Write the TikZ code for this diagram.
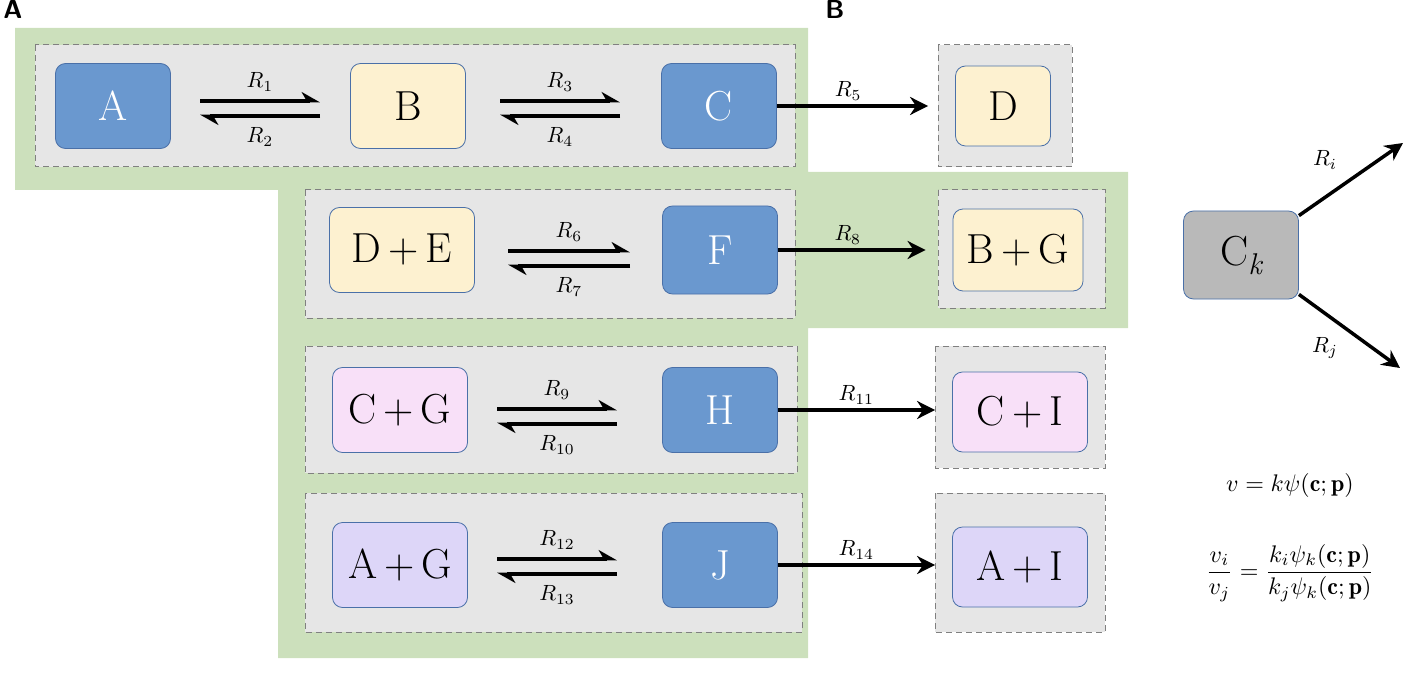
\documentclass[tikz,border=0pt]{standalone}
\usepackage{fontspec}
\usetikzlibrary{arrows.meta}
\definecolor{bfill}{HTML}{6A98CF}
\definecolor{bdraw}{HTML}{4A70A8}
\definecolor{yfill}{HTML}{FDF1D0}
\definecolor{pfill}{HTML}{F8E0F8}
\definecolor{lfill}{HTML}{DDD6F8}
\definecolor{gfill}{HTML}{E6E6E6}
\definecolor{grn}{HTML}{CCE0BC}
\newcommand{\mylab}[1]{\scalebox{2.2}{$#1$}}
\tikzset{
 sp/.style={draw=bdraw,line width=0.8pt,rounded corners=10pt,minimum width=115pt,minimum height=85pt,font=\fontsize{42}{46}\selectfont,inner sep=2pt},
 blu/.style={sp,fill=bfill,text=white},
 yel/.style={sp,fill=yfill},
 pnk/.style={sp,fill=pfill},
 lav/.style={sp,fill=lfill},
 grp/.style={draw=gray,fill=gfill,line width=1pt,dash pattern=on 6pt off 4pt},
 fw/.style={line width=4pt,-{Stealth[harpoon,length=16pt,width=18pt]}},
 rl/.style={inner sep=2pt},
 ar/.style={line width=3.5pt,-{Stealth[length=18pt,width=18pt]}},
 pl/.style={font=\sffamily\bfseries\fontsize{26}{30}\selectfont,anchor=center}
}
\begin{document}
\begin{tikzpicture}[x=1pt,y=-1pt]
\useasboundingbox (0,0) rectangle (1420,676);
\fill[grn] (15,28) -- (808,28) -- (808,172) -- (1128,172) -- (1128,328) -- (808,328) -- (808,658) -- (278,658) -- (278,190) -- (15,190) -- cycle;
\draw[grp] (35,45) rectangle (795,167);
\draw[grp] (305,190) rectangle (795,318);
\draw[grp] (305,346) rectangle (797,473);
\draw[grp] (305,493) rectangle (802,632);
\draw[grp] (938,45) rectangle (1072,167);
\draw[grp] (938,190) rectangle (1105,308);
\draw[grp] (935,346) rectangle (1105,468);
\draw[grp] (935,493) rectangle (1105,632);
\node[pl] (pa) at (13,9) {A};
\node[pl] (pb) at (835,9) {B};
\node[blu] (A) at (113,106) {A};
\node[yel] (B) at (408,106) {B};
\node[blu] (C) at (719,106) {C};
\node[yel,minimum width=95pt,minimum height=80pt] (D) at (1003,106) {D};
\node[yel,minimum width=145pt] (DE) at (402,250) {D\,+\,E};
\node[blu,minimum height=88pt] (F) at (720,250) {F};
\node[yel,minimum width=130pt,minimum height=82pt] (BG) at (1018,250) {B\,+\,G};
\node[pnk,minimum width=135pt] (CG) at (400,410) {C\,+\,G};
\node[blu] (H) at (720,410) {H};
\node[pnk,minimum width=135pt,minimum height=80pt] (CI) at (1020,412) {C\,+\,I};
\node[lav,minimum width=135pt] (AG) at (400,565) {A\,+\,G};
\node[blu] (J) at (720,565) {J};
\node[lav,minimum width=135pt,minimum height=80pt] (AI) at (1020,567) {A\,+\,I};
\newcommand{\eqarr}[6]{%
 \coordinate (#1a) at (#2,#4-7); \coordinate (#1b) at (#3,#4-7);
 \coordinate (#1c) at (#3,#4+8); \coordinate (#1d) at (#2,#4+8);
 \draw[fw] (#1a) -- (#1b);
 \draw[fw] (#1c) -- (#1d);
 \node[rl] at ({(#2+#3)/2},#4-26) {\mylab{R_{#5}}};
 \node[rl] at ({(#2+#3)/2},#4+29) {\mylab{R_{#6}}};}
\eqarr{e1}{200}{320}{108}{1}{2}
\eqarr{e2}{500}{620}{108}{3}{4}
\eqarr{e3}{508}{630}{258}{6}{7}
\eqarr{e4}{497}{617}{416}{9}{10}
\eqarr{e5}{497}{617}{566}{12}{13}
\draw[ar,shorten >=27pt] (C.east) -- (C.east -| D.west) node[rl,pos=0.4,above=2pt] {\mylab{R_5}};
\draw[ar,shorten >=27pt] (F.east) -- (F.east -| BG.west) node[rl,pos=0.4,above=2pt] {\mylab{R_8}};
\draw[ar,shorten >=17pt] (H.east) -- (H.east -| CI.west) node[rl,pos=0.45,above=2pt] {\mylab{R_{11}}};
\draw[ar,shorten >=17pt] (J.east) -- (J.east -| AI.west) node[rl,pos=0.45,above=2pt] {\mylab{R_{14}}};
\node[sp,fill=gray!55,minimum width=115pt,minimum height=88pt] (Ck) at (1241,255) {C\raisebox{-9pt}{\fontsize{30}{30}\selectfont\itshape k}};
\coordinate (ri) at (1403,143);
\coordinate (rj) at (1400,368);
\draw[ar] (Ck.north east) ++(0,5) -- (ri);
\draw[ar] (Ck.south east) ++(0,-5) -- (rj);
\node[rl] at (1325,160) {\mylab{R_i}};
\node[rl] at (1325,348) {\mylab{R_j}};
\node[rl] (e1) at (1290,485) {\scalebox{2.4}{$v=k\psi(\mathbf{c};\mathbf{p})$}};
\node[rl] (e2) at (1290,573) {\scalebox{2.4}{$\displaystyle\frac{v_i}{v_j}=\frac{k_i\psi_k(\mathbf{c};\mathbf{p})}{k_j\psi_k(\mathbf{c};\mathbf{p})}$}};
\end{tikzpicture}
\end{document}
